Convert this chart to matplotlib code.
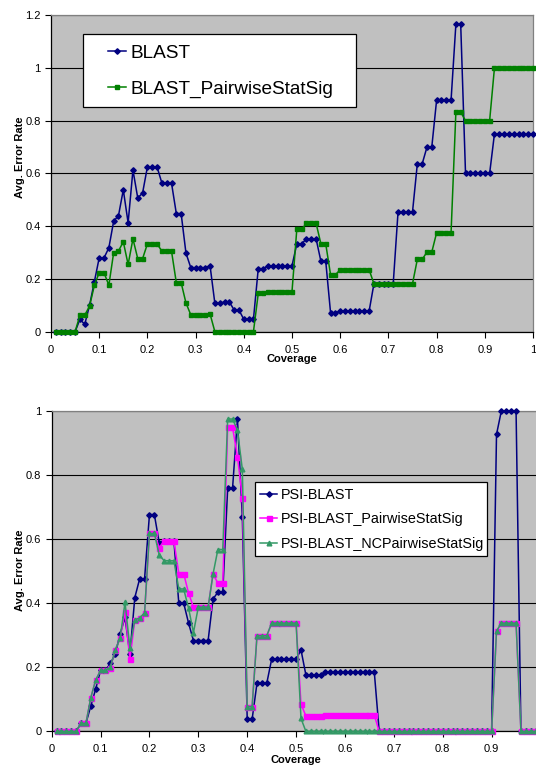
import matplotlib

matplotlib.use("Agg")
import matplotlib.pyplot as plt
from matplotlib.patches import Rectangle
from matplotlib.ticker import FuncFormatter

plt.rcParams["font.family"] = ["Liberation Sans", "DejaVu Sans"]

# coverage steps 0.01 .. 1.00
coverage = [i / 100 for i in range(1, 101)]

# --- top chart ---
blast = [
    0, 0, 0, 0, 0, 0.047, 0.028, 0.10, 0.19, 0.28,
    0.28, 0.318, 0.419, 0.44, 0.538, 0.413, 0.613, 0.507, 0.526, 0.625,
    0.625, 0.625, 0.564, 0.564, 0.564, 0.448, 0.448, 0.298, 0.243, 0.243,
    0.243, 0.243, 0.25, 0.107, 0.107, 0.113, 0.113, 0.082, 0.082, 0.047,
    0.047, 0.047, 0.239, 0.239, 0.25, 0.25, 0.25, 0.25, 0.25, 0.25,
    0.333, 0.333, 0.352, 0.352, 0.352, 0.267, 0.267, 0.072, 0.072, 0.078,
    0.078, 0.078, 0.078, 0.078, 0.078, 0.078, 0.182, 0.182, 0.182, 0.182,
    0.182, 0.454, 0.454, 0.454, 0.454, 0.636, 0.636, 0.70, 0.70, 0.878,
    0.878, 0.878, 0.878, 1.166, 1.166, 0.60, 0.60, 0.60, 0.60, 0.60,
    0.60, 0.75, 0.75, 0.75, 0.75, 0.75, 0.75, 0.75, 0.75, 0.75,
]
blast_pairwise = [
    0, 0, 0, 0, 0, 0.062, 0.063, 0.097, 0.176, 0.224,
    0.224, 0.176, 0.30, 0.306, 0.341, 0.255, 0.352, 0.277, 0.277, 0.333,
    0.333, 0.333, 0.306, 0.306, 0.306, 0.186, 0.186, 0.109, 0.064, 0.064,
    0.064, 0.064, 0.067, 0, 0, 0, 0, 0, 0, 0,
    0, 0, 0.145, 0.145, 0.152, 0.152, 0.152, 0.152, 0.152, 0.152,
    0.389, 0.389, 0.411, 0.411, 0.411, 0.333, 0.333, 0.216, 0.216, 0.235,
    0.235, 0.235, 0.235, 0.235, 0.235, 0.235, 0.182, 0.182, 0.182, 0.182,
    0.182, 0.182, 0.182, 0.182, 0.182, 0.274, 0.274, 0.302, 0.302, 0.375,
    0.375, 0.375, 0.375, 0.833, 0.833, 0.80, 0.80, 0.80, 0.80, 0.80,
    0.80, 1.0, 1.0, 1.0, 1.0, 1.0, 1.0, 1.0, 1.0, 1.0,
]

# --- bottom chart ---
psi_blast = [
    0, 0, 0, 0, 0, 0.025, 0.025, 0.079, 0.132, 0.19,
    0.19, 0.212, 0.24, 0.304, 0.355, 0.24, 0.417, 0.476, 0.476, 0.676,
    0.676, 0.588, 0.594, 0.594, 0.594, 0.40, 0.40, 0.3375, 0.283, 0.283,
    0.283, 0.283, 0.4125, 0.434, 0.434, 0.758, 0.758, 0.974, 0.669, 0.0375,
    0.0375, 0.15, 0.15, 0.15, 0.225, 0.225, 0.225, 0.225, 0.225, 0.225,
    0.254, 0.176, 0.176, 0.176, 0.176, 0.184, 0.184, 0.184, 0.184, 0.184,
    0.184, 0.184, 0.184, 0.184, 0.184, 0.184, 0, 0, 0, 0,
    0, 0, 0, 0, 0, 0, 0, 0, 0, 0,
    0, 0, 0, 0, 0, 0, 0, 0, 0, 0,
    0.926, 1.0, 1.0, 1.0, 1.0, 0, 0, 0, 0, 0,
]
psi_pairwise = [
    0, 0, 0, 0, 0, 0.025, 0.025, 0.105, 0.16, 0.19,
    0.19, 0.197, 0.254, 0.29, 0.371, 0.225, 0.346, 0.353, 0.369, 0.617,
    0.617, 0.573, 0.594, 0.594, 0.594, 0.492, 0.492, 0.431, 0.3875, 0.3875,
    0.3875, 0.3875, 0.49, 0.4625, 0.4625, 0.948, 0.948, 0.857, 0.729, 0.077,
    0.077, 0.298, 0.298, 0.298, 0.3375, 0.3375, 0.3375, 0.3375, 0.3375, 0.3375,
    0.085, 0.048, 0.048, 0.048, 0.048, 0.05, 0.05, 0.05, 0.05, 0.05,
    0.05, 0.05, 0.05, 0.05, 0.05, 0.05, 0, 0, 0, 0,
    0, 0, 0, 0, 0, 0, 0, 0, 0, 0,
    0, 0, 0, 0, 0, 0, 0, 0, 0, 0,
    0.3125, 0.3375, 0.3375, 0.3375, 0.3375, 0, 0, 0, 0, 0,
]
psi_nc_pairwise = [
    0, 0, 0, 0, 0, 0.025, 0.025, 0.105, 0.16, 0.19,
    0.19, 0.20, 0.254, 0.29, 0.402, 0.26, 0.348, 0.353, 0.37, 0.617,
    0.617, 0.55, 0.532, 0.532, 0.532, 0.444, 0.444, 0.384, 0.308, 0.3875,
    0.3875, 0.3875, 0.49, 0.567, 0.567, 0.974, 0.974, 0.94, 0.817, 0.077,
    0.077, 0.298, 0.298, 0.298, 0.3375, 0.3375, 0.3375, 0.3375, 0.3375, 0.3375,
    0.04, 0, 0, 0, 0, 0, 0, 0, 0, 0,
    0, 0, 0, 0, 0, 0, 0, 0, 0, 0,
    0, 0, 0, 0, 0, 0, 0, 0, 0, 0,
    0, 0, 0, 0, 0, 0, 0, 0, 0, 0,
    0.3125, 0.3375, 0.3375, 0.3375, 0.3375, 0, 0, 0, 0, 0,
]

top_x_ticks = [i / 10 for i in range(11)]
bottom_x_ticks = [i / 10 for i in range(10)]  # "1" falls off the right edge
top_y_ticks = [0, 0.2, 0.4, 0.6, 0.8, 1.0, 1.2]
bottom_y_ticks = [0, 0.2, 0.4, 0.6, 0.8, 1.0]

W, H = 536, 769
fig = plt.figure(figsize=(W / 100, H / 100), dpi=100)


def px_axes(left, top, right, bottom):
    return fig.add_axes([left / W, 1 - bottom / H, (right - left) / W, (bottom - top) / H])


def style_axes(ax, xticks, yticks):
    ax.set_facecolor("#c0c0c0")
    ax.set_xlim(0, 1)
    ax.set_ylim(yticks[0], yticks[-1])
    ax.set_xticks(xticks)
    ax.set_yticks(yticks)
    fmt = FuncFormatter(lambda v, _: f"{v:g}")
    ax.xaxis.set_major_formatter(fmt)
    ax.yaxis.set_major_formatter(fmt)
    ax.tick_params(axis="both", direction="out", length=4, width=0.8,
                   labelsize=8, colors="black")
    ax.tick_params(axis="x", pad=5.5)
    ax.tick_params(axis="y", pad=3.5)
    ax.grid(True, axis="y", color="black", linewidth=0.8)
    ax.set_axisbelow(True)
    for side in ("left", "bottom"):
        ax.spines[side].set_color("black")
        ax.spines[side].set_linewidth(0.9)
    for side in ("top", "right"):
        ax.spines[side].set_color("#808080")
        ax.spines[side].set_linewidth(0.9)
    ax.set_xlabel("Coverage", fontsize=8, fontweight="bold")
    ax.set_ylabel("Avg. Error Rate", fontsize=8, fontweight="bold")


# ---------- top ----------
ax1 = px_axes(51, 15.3, 533, 331.7)
style_axes(ax1, top_x_ticks, top_y_ticks)
ax1.plot(coverage, blast, color="#000080", marker="D", markersize=2.8,
         linewidth=1.1, label="BLAST", clip_on=False, zorder=3)
ax1.plot(coverage, blast_pairwise, color="#008000", marker="s", markersize=3.2,
         linewidth=1.1, label="BLAST_PairwiseStatSig", clip_on=False, zorder=4)
ax1.xaxis.set_label_coords(0.5, -0.072)
ax1.yaxis.set_label_coords(-0.054, 0.552)

fig.patches.append(Rectangle((83 / W, 1 - 107 / H), (356 - 83) / W, (107 - 34) / H,
                             transform=fig.transFigure, facecolor="white",
                             edgecolor="black", linewidth=0.9, zorder=5))
leg1 = fig.legend(handles=ax1.get_lines(), loc="center left",
                  bbox_to_anchor=(108 / W, 1 - 71.5 / H), frameon=False,
                  fontsize=13.7, borderpad=0, borderaxespad=0, labelspacing=0.98,
                  handlelength=0.95, handletextpad=0.22)
leg1.set_zorder(6)

# ---------- bottom ----------
ax2 = px_axes(51.7, 410.7, 540.5, 731.3)
style_axes(ax2, bottom_x_ticks, bottom_y_ticks)
ax2.plot(coverage, psi_blast, color="#000080", marker="D", markersize=2.8,
         linewidth=1.1, label="PSI-BLAST", clip_on=False, zorder=3)
ax2.plot(coverage, psi_pairwise, color="#ff00ff", marker="s", markersize=3.6,
         linewidth=1.1, label="PSI-BLAST_PairwiseStatSig", clip_on=False, zorder=4)
ax2.plot(coverage, psi_nc_pairwise, color="#339966", marker="^", markersize=3.4,
         linewidth=1.1, label="PSI-BLAST_NCPairwiseStatSig", clip_on=False, zorder=5)
ax2.xaxis.set_label_coords(0.5, -0.073)
ax2.yaxis.set_label_coords(-0.0546, 0.503)

fig.patches.append(Rectangle((255 / W, 1 - 556 / H), (487.3 - 255) / W, (556 - 481.7) / H,
                             transform=fig.transFigure, facecolor="white",
                             edgecolor="black", linewidth=0.9, zorder=5))
leg2 = fig.legend(handles=ax2.get_lines(), loc="center left",
                  bbox_to_anchor=(260 / W, 1 - 519.5 / H), frameon=False,
                  fontsize=10.35, borderpad=0, borderaxespad=0, labelspacing=0.72,
                  handlelength=1.2, handletextpad=0.28)
leg2.set_zorder(6)

fig.savefig("out.png", dpi=100)
